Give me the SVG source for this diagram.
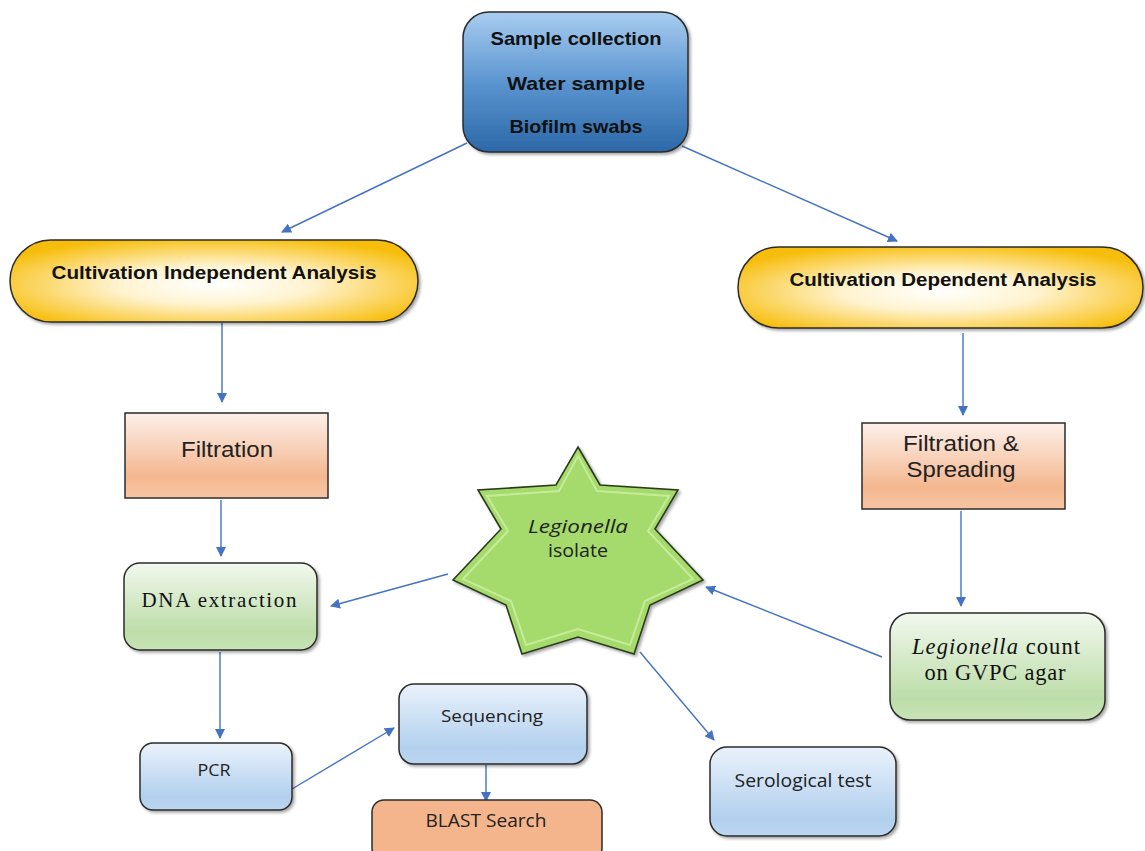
<svg xmlns="http://www.w3.org/2000/svg" width="1145" height="851" viewBox="0 0 1145 851">
<defs>
<linearGradient id="gTop" x1="0" y1="0" x2="0" y2="1"><stop offset="0" stop-color="#a9cdf0"/><stop offset="0.5" stop-color="#5b95d0"/><stop offset="1" stop-color="#2c68a8"/></linearGradient>
<radialGradient id="gPill" cx="0.5" cy="0.55" r="0.6"><stop offset="0" stop-color="#ffffff"/><stop offset="0.4" stop-color="#fff3cf"/><stop offset="1" stop-color="#f7bd0a"/></radialGradient>
<linearGradient id="gPeach" x1="0" y1="0" x2="0" y2="1"><stop offset="0" stop-color="#fdf0ea"/><stop offset="0.75" stop-color="#f4b78f"/><stop offset="1" stop-color="#f7c6a5"/></linearGradient>
<linearGradient id="gGreen" x1="0" y1="0" x2="0" y2="1"><stop offset="0" stop-color="#f2f8ee"/><stop offset="0.8" stop-color="#bcdda8"/><stop offset="1" stop-color="#c9e4b8"/></linearGradient>
<linearGradient id="gBlue" x1="0" y1="0" x2="0" y2="1"><stop offset="0" stop-color="#eaf2fb"/><stop offset="0.8" stop-color="#b2d0ee"/><stop offset="1" stop-color="#bcd6f0"/></linearGradient>
<filter id="sh" x="-10%" y="-10%" width="130%" height="130%"><feDropShadow dx="2" dy="2" stdDeviation="1.5" flood-color="#000" flood-opacity="0.35"/></filter>
<marker id="ar" viewBox="0 0 10 10" refX="9" refY="5" markerWidth="10" markerHeight="10" markerUnits="userSpaceOnUse" orient="auto"><path d="M0,0 L10,5 L0,10 z" fill="#4472c4"/></marker>
</defs>
<style>
.c{fill:none;stroke:#4472c4;stroke-width:1.4;marker-end:url(#ar)}
.bx{stroke:#2b2b2b;stroke-width:1.5}
.cb{font-family:"Liberation Sans",Arial,sans-serif;font-weight:bold;fill:#111;text-anchor:middle}
.ar{font-family:"Liberation Sans",Arial,sans-serif;fill:#222;text-anchor:middle}
.sf{font-family:"Liberation Serif","Times New Roman",serif;fill:#111;text-anchor:middle}
.cl{font-family:"Open Sans","Liberation Sans",sans-serif;fill:#222;text-anchor:middle}
</style>
<rect width="1145" height="851" fill="#ffffff"/>
<g id="connectors">
<line class="c" x1="467" y1="143" x2="282" y2="232"/>
<line class="c" x1="682" y1="146" x2="897" y2="241"/>
<line class="c" x1="222" y1="323" x2="222" y2="402"/>
<line class="c" x1="963" y1="333" x2="963" y2="415"/>
<line class="c" x1="221" y1="500" x2="221" y2="556"/>
<line class="c" x1="961" y1="511" x2="961" y2="606"/>
<line class="c" x1="448" y1="574" x2="331" y2="606"/>
<line class="c" x1="882" y1="657" x2="706" y2="587"/>
<line class="c" x1="220" y1="652" x2="220" y2="738"/>
<line class="c" x1="292" y1="789" x2="394" y2="728"/>
<line class="c" x1="486" y1="765" x2="486" y2="801"/>
<line class="c" x1="640" y1="652" x2="714" y2="740"/>
</g>
<g id="sample">
<rect class="bx" x="463" y="12" width="225" height="140" rx="26" fill="url(#gTop)" filter="url(#sh)"/>
<text class="cb" x="576" y="45" font-size="18.5" textLength="171" lengthAdjust="spacingAndGlyphs">Sample collection</text>
<text class="cb" x="576" y="90" font-size="18.5" textLength="138" lengthAdjust="spacingAndGlyphs">Water sample</text>
<text class="cb" x="576" y="133" font-size="18.5" textLength="133" lengthAdjust="spacingAndGlyphs">Biofilm swabs</text>
</g>
<g id="indep">
<rect class="bx" x="10" y="240" width="408" height="82" rx="41" fill="url(#gPill)" filter="url(#sh)"/>
<text class="cb" x="214" y="279" font-size="17.5" textLength="325" lengthAdjust="spacingAndGlyphs">Cultivation Independent Analysis</text>
</g>
<g id="dep">
<rect class="bx" x="738" y="247" width="405" height="81" rx="40.5" fill="url(#gPill)" filter="url(#sh)"/>
<text class="cb" x="943" y="286" font-size="17.5" textLength="307" lengthAdjust="spacingAndGlyphs">Cultivation Dependent Analysis</text>
</g>
<g id="filtration">
<rect class="bx" x="125" y="413" width="203" height="85" fill="url(#gPeach)"/>
<text class="ar" x="227" y="457" font-size="22" textLength="92" lengthAdjust="spacingAndGlyphs">Filtration</text>
</g>
<g id="filtspread">
<rect class="bx" x="862" y="423" width="203" height="86" fill="url(#gPeach)"/>
<text class="ar" x="961" y="451" font-size="22" textLength="116" lengthAdjust="spacingAndGlyphs">Filtration &amp;</text>
<text class="ar" x="961" y="477" font-size="22" textLength="109" lengthAdjust="spacingAndGlyphs">Spreading</text>
</g>
<g id="dna">
<rect class="bx" x="124" y="563" width="193" height="87" rx="16" fill="url(#gGreen)" filter="url(#sh)"/>
<text class="sf" x="219" y="607" font-size="21" textLength="155" lengthAdjust="spacing">DNA extraction</text>
</g>
<g id="isolate">
<polygon points="578,447 600,485 678,490 655,529 703,580 650,605 634,654 578,637 522,654 506,605 453,580 501,529 478,490 556,485" fill="#a5da6c" stroke="#2b3a1c" stroke-width="1.6" stroke-linejoin="miter" filter="url(#sh)"/>
<polygon points="578,456 597,491 669,496 648,531 693,579 645,601 630,645 578,629 526,645 511,601 463,579 508,531 487,496 559,491" fill="none" stroke="#c6ec9a" stroke-width="2"/>
<text class="cl" x="578" y="533" font-size="18" font-style="italic" textLength="100" lengthAdjust="spacingAndGlyphs">Legionella</text>
<text class="cl" x="578" y="557" font-size="18" textLength="60" lengthAdjust="spacingAndGlyphs">isolate</text>
</g>
<g id="count">
<rect class="bx" x="890" y="613" width="215" height="107" rx="20" fill="url(#gGreen)" filter="url(#sh)"/>
<text class="sf" x="996" y="654" font-size="22.5" textLength="168" lengthAdjust="spacing"><tspan font-style="italic">Legionella</tspan> count</text>
<text class="sf" x="995" y="680" font-size="22.5" textLength="141" lengthAdjust="spacing">on GVPC agar</text>
</g>
<g id="pcr">
<rect class="bx" x="140" y="743" width="152" height="67" rx="13" fill="url(#gBlue)" filter="url(#sh)"/>
<text class="cl" x="214" y="776" font-size="17" textLength="33" lengthAdjust="spacingAndGlyphs">PCR</text>
</g>
<g id="seq">
<rect class="bx" x="399" y="684" width="188" height="80" rx="15" fill="url(#gBlue)" filter="url(#sh)"/>
<text class="cl" x="492" y="722" font-size="17" textLength="102" lengthAdjust="spacingAndGlyphs">Sequencing</text>
</g>
<g id="blast">
<rect class="bx" x="372" y="800" width="230" height="60" rx="12" fill="#f4b58c"/>
<text class="cl" x="486" y="827" font-size="18" textLength="121" lengthAdjust="spacingAndGlyphs">BLAST Search</text>
</g>
<g id="sero">
<rect class="bx" x="710" y="747" width="186" height="89" rx="17" fill="url(#gBlue)" filter="url(#sh)"/>
<text class="cl" x="803" y="787" font-size="18" textLength="137" lengthAdjust="spacingAndGlyphs">Serological test</text>
</g>
</svg>
